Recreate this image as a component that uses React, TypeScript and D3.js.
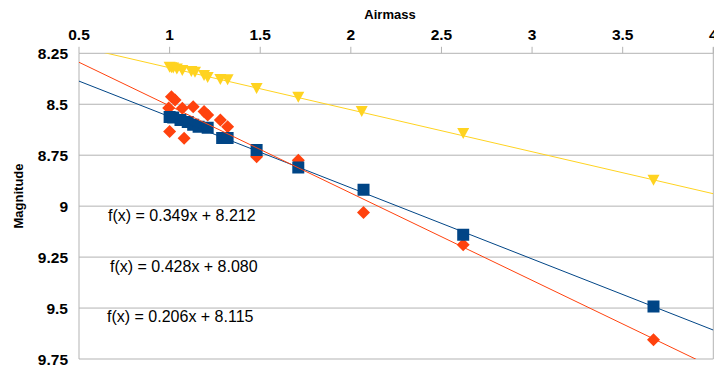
import React from "react";
import * as d3 from "d3";

const xTicks = [0.5, 1, 1.5, 2, 2.5, 3, 3.5, 4];
const yTicks = [8.25, 8.5, 8.75, 9, 9.25, 9.5, 9.75];

const blueX = [1.0, 1.02, 1.06, 1.1, 1.13, 1.16, 1.21, 1.29, 1.32, 1.48, 1.71, 2.07, 2.62, 3.67];
const blueY = [8.562, 8.565, 8.577, 8.587, 8.601, 8.61, 8.615, 8.665, 8.665, 8.724, 8.81, 8.92, 9.14, 9.493];

const orangeX = [1.01, 1.03, 0.995, 1.07, 1.13, 1.19, 1.21, 1.28, 1.32, 1.0, 1.08, 1.48, 1.71, 2.07, 2.62, 3.67];
const orangeY = [8.463, 8.479, 8.518, 8.52, 8.512, 8.536, 8.553, 8.577, 8.61, 8.634, 8.667, 8.757, 8.775, 9.031, 9.19, 9.655];

const yellowX = [1.0, 1.01, 1.02, 1.04, 1.07, 1.12, 1.14, 1.19, 1.21, 1.28, 1.32, 1.48, 1.71, 2.06, 2.62, 3.67];
const yellowY = [8.316, 8.318, 8.32, 8.325, 8.332, 8.337, 8.34, 8.356, 8.366, 8.376, 8.377, 8.42, 8.463, 8.533, 8.641, 8.871];

const trendSlopes = [0.349, 0.428, 0.206];
const trendIntercepts = [8.212, 8.08, 8.115];
const trendLabels = ["f(x) = 0.349x + 8.212", "f(x) = 0.428x + 8.080", "f(x) = 0.206x + 8.115"];
const colors = ["#004586", "#ff420e", "#ffd320"];

export default function App() {
  const W = 714, H = 368;
  const L = 79, R = 713.3, T = 53.3, B = 359;
  const x = d3.scaleLinear().domain([0.5, 4]).range([L, R]);
  const y = d3.scaleLinear().domain([8.25, 9.75]).range([T, B]);
  const font = "'Liberation Sans', Arial, sans-serif";

  const trendPath = (i: number) => {
    const line = d3.line<number>().x((d) => x(d)).y((d) => y(trendSlopes[i] * d + trendIntercepts[i]));
    return line([0.5, 4]) || "";
  };

  const square = (cx: number, cy: number) => `M${cx - 6},${cy - 6}h12v12h-12Z`;
  const diamond = (cx: number, cy: number) => `M${cx},${cy - 6.5}L${cx + 6.5},${cy}L${cx},${cy + 6.5}L${cx - 6.5},${cy}Z`;
  const tri = (cx: number, cy: number) => `M${cx - 6},${cy - 5}L${cx + 6},${cy - 5}L${cx},${cy + 6}Z`;

  const labelPos = [
    { x: 108, y: 221 },
    { x: 110, y: 272 },
    { x: 107, y: 322 },
  ];

  return (
    <svg width={W} height={H} style={{ position: "absolute", left: 0, top: 0, background: "#fff" }} fontFamily={font}>
      <defs>
        <clipPath id="plot">
          <rect x={L} y={T} width={R - L} height={B - T} />
        </clipPath>
      </defs>
      <rect x={0} y={0} width={W} height={H} fill="#fff" />
      {yTicks.map((t) => (
        <line key={"g" + t} x1={L} x2={R} y1={y(t)} y2={y(t)} stroke="#b3b3b3" strokeWidth={1} />
      ))}
      <line x1={L} x2={L} y1={T} y2={B} stroke="#b3b3b3" />
      <line x1={R} x2={R} y1={T - 6} y2={B} stroke="#b3b3b3" />
      {xTicks.map((t) => (
        <g key={"x" + t}>
          <line x1={x(t)} x2={x(t)} y1={T - 6.5} y2={T} stroke="#b3b3b3" />
          <text x={x(t)} y={40} textAnchor="middle" fontSize={15.5} fontWeight="bold" fill="#000">
            {String(t)}
          </text>
        </g>
      ))}
      {yTicks.map((t) => (
        <text key={"y" + t} x={68} y={y(t) + 6} textAnchor="end" fontSize={15.5} fontWeight="bold" fill="#000">
          {String(t)}
        </text>
      ))}
      <text x={390} y={19} textAnchor="middle" fontSize={13} fontWeight="bold">Airmass</text>
      <text transform="translate(22.5,196) rotate(-90)" textAnchor="middle" fontSize={13} fontWeight="bold">Magnitude</text>

      <g clipPath="url(#plot)">
        {yellowX.map((d, i) => (
          <path key={"yl" + i} d={tri(x(d), y(yellowY[i]))} fill={colors[2]} />
        ))}
        {orangeX.map((d, i) => (
          <path key={"or" + i} d={diamond(x(d), y(orangeY[i]))} fill={colors[1]} />
        ))}
        {blueX.map((d, i) => (
          <path key={"bl" + i} d={square(x(d), y(blueY[i]))} fill={colors[0]} />
        ))}
        {trendSlopes.map((_, i) => (
          <path key={"t" + i} d={trendPath(i)} stroke={colors[i]} strokeWidth={1} fill="none" />
        ))}
      </g>
      {trendLabels.map((s, i) => (
        <text key={"l" + i} x={labelPos[i].x} y={labelPos[i].y} fontSize={16} fill="#000">
          {s}
        </text>
      ))}
    </svg>
  );
}
